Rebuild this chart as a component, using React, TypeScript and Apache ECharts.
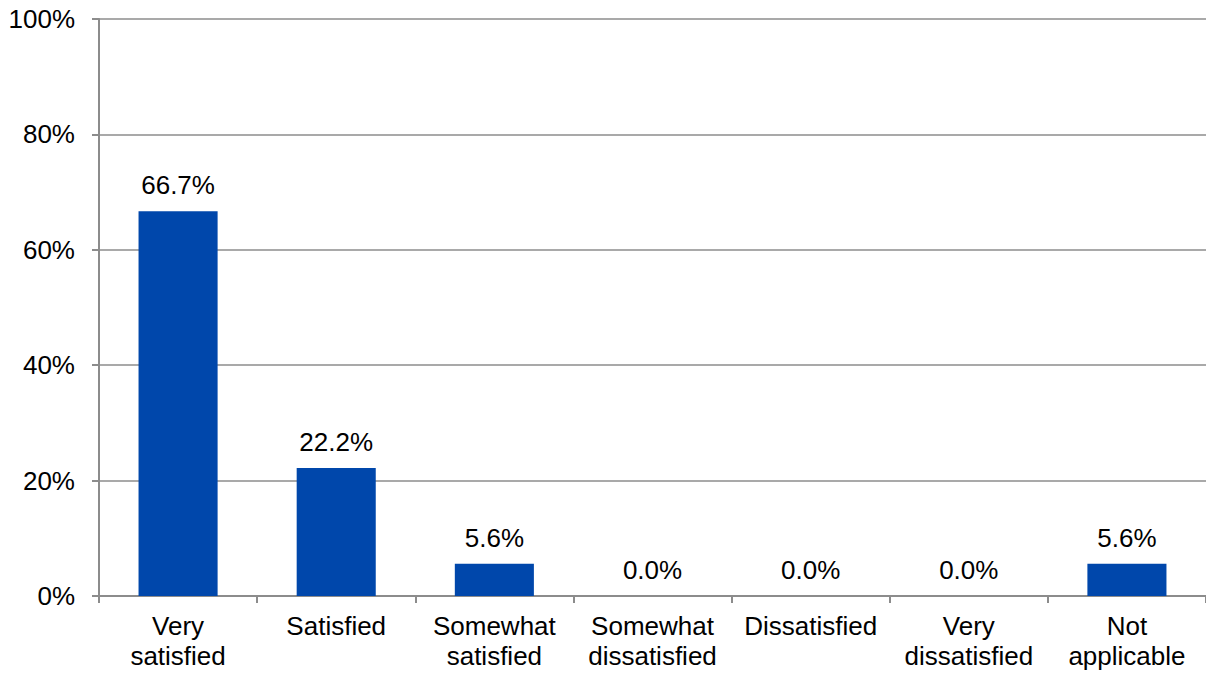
import React, { useEffect, useRef } from "react";
import * as echarts from "echarts";

const categories = [
  "Very\nsatisfied",
  "Satisfied",
  "Somewhat\nsatisfied",
  "Somewhat\ndissatisfied",
  "Dissatisfied",
  "Very\ndissatisfied",
  "Not\napplicable",
];
const values = [66.7, 22.2, 5.6, 0.0, 0.0, 0.0, 5.6];
const yTicks = [0, 20, 40, 60, 80, 100];

export default function App() {
  const ref = useRef<HTMLDivElement>(null);
  useEffect(() => {
    if (!ref.current) return;
    const chart = echarts.init(ref.current, undefined, { renderer: "svg" });
    const font = "'Liberation Sans', Arial, sans-serif";
    chart.setOption({
      animation: false,
      grid: { left: 99, top: 19, right: -5, bottom: 79, containLabel: false },
      xAxis: {
        type: "category",
        data: categories,
        axisLine: { show: true, lineStyle: { color: "#8c8c8c", width: 2 } },
        axisTick: { show: true, alignWithLabel: false, length: 7, lineStyle: { color: "#8c8c8c", width: 2 } },
        axisLabel: { color: "#000", fontSize: 26, fontFamily: font, margin: 15, lineHeight: 30, interval: 0 },
      },
      yAxis: {
        type: "value",
        min: yTicks[0],
        max: yTicks[yTicks.length - 1],
        interval: 20,
        axisLine: { show: true, lineStyle: { color: "#8c8c8c", width: 2 } },
        axisTick: { show: true, length: 7, lineStyle: { color: "#8c8c8c", width: 2 } },
        axisLabel: { color: "#000", fontSize: 26, fontFamily: font, margin: 24, formatter: "{value}%" },
        splitLine: { show: true, lineStyle: { color: "#8c8c8c", width: 1.5 } },
      },
      series: [
        {
          type: "bar",
          data: values,
          barWidth: "50%",
          itemStyle: { color: "#0047AB" },
          label: {
            show: true,
            position: "top",
            distance: 13,
            color: "#000",
            fontSize: 26,
            fontFamily: font,
            formatter: (p: any) => Number(p.value).toFixed(1) + "%",
          },
        },
      ],
    });
    return () => chart.dispose();
  }, []);
  return (
    <div
      ref={ref}
      style={{ position: "fixed", left: 0, top: 0, width: 1206, height: 675, background: "#fff" }}
    />
  );
}
